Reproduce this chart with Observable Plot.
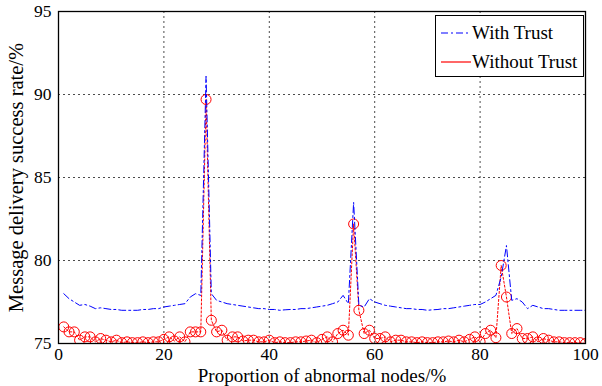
<!DOCTYPE html>
<html>
<head>
<meta charset="utf-8">
<script src="https://cdn.jsdelivr.net/npm/d3@7"></script>
<script src="https://cdn.jsdelivr.net/npm/@observablehq/plot@0.6"></script>
<style>
  body { margin: 0; background: #fff; }
  #wrap { position: relative; width: 602px; height: 386px; font-family: "Liberation Serif", serif; }
  #wrap svg text { font-family: "Liberation Serif", serif; }
  #legend { position: absolute; left: 435px; top: 15px; width: 149px; height: 62px; border: 1px solid #000; background: #fff; box-sizing: border-box; font-size: 19px; }
  .row { position: absolute; left: 5px; height: 22px; display: flex; align-items: center; }
  .row span { margin-left: 1px; }
</style>
</head>
<body>
<div id="wrap"></div>
<script>
// Series values (x = proportion of abnormal nodes, 1..100 %)
const proportion = d3.range(1, 101);
const withTrust = [
  78.0, 77.7, 77.5, 77.3, 77.35, 77.25, 77.1, 77.15, 77.1, 77.05,
  77.05, 77.0, 77.0, 77.0, 77.0, 77.05, 77.05, 77.1, 77.1, 77.2,
  77.25, 77.3, 77.35, 77.4, 77.8, 78.0, 77.9, 91.1, 78.0, 77.6,
  77.5, 77.4, 77.35, 77.3, 77.25, 77.2, 77.15, 77.1, 77.1, 77.05,
  77.05, 77.0, 77.03, 77.05, 77.05, 77.1, 77.1, 77.15, 77.2, 77.25,
  77.3, 77.4, 77.5, 77.9, 77.4, 83.5, 77.3, 77.2, 77.7, 77.5,
  77.4, 77.3, 77.25, 77.2, 77.15, 77.1, 77.1, 77.05, 77.05, 77.0,
  77.03, 77.05, 77.1, 77.1, 77.15, 77.2, 77.25, 77.3, 77.35, 77.35,
  77.5, 77.7, 77.9, 79.0, 80.9, 77.6, 77.7, 77.5, 77.1, 77.3,
  77.2, 77.1, 77.1, 77.05, 77.0, 77.0, 77.0, 77.0, 77.0, 77.0
];
const withoutTrust = [
  76.0, 75.7, 75.7, 75.2, 75.4, 75.4, 75.1, 75.3, 75.2, 75.1,
  75.2, 75.05, 75.1, 75.05, 75.05, 75.1, 75.05, 75.1, 75.1, 75.25,
  75.4, 75.15, 75.4, 75.1, 75.7, 75.7, 75.7, 89.7, 76.4, 75.7,
  75.8, 75.2, 75.4, 75.4, 75.15, 75.2, 75.2, 75.1, 75.1, 75.2,
  75.05, 75.1, 75.05, 75.05, 75.1, 75.1, 75.15, 75.2, 75.05, 75.25,
  75.4, 75.1, 75.6, 75.8, 75.5, 82.2, 77.0, 75.6, 75.8, 75.3,
  75.3, 75.4, 75.1, 75.2, 75.2, 75.1, 75.1, 75.05, 75.1, 75.05,
  75.05, 75.1, 75.1, 75.15, 75.1, 75.2, 75.1, 75.25, 75.4, 75.1,
  75.6, 75.8, 75.35, 79.7, 77.8, 75.6, 75.9, 75.3, 75.3, 75.4,
  75.1, 75.3, 75.2, 75.1, 75.1, 75.05, 75.05, 75.05, 75.05, 75.0
];
const xTicks = [0, 20, 40, 60, 80, 100];
const yTicks = [75, 80, 85, 90, 95];
const seriesNames = ["With Trust", "Without Trust"];
const seriesColors = ["#0000ff", "#ff0000"];
const xLabel = "Proportion of abnormal nodes/%";
const yLabel = "Message delivery success rate/%";

const rowsWith = proportion.map((x, i) => ({x, y: withTrust[i]}));
const rowsWithout = proportion.map((x, i) => ({x, y: withoutTrust[i]}));

const font = "Liberation Serif, serif";
const chart = Plot.plot({
  width: 602,
  height: 386,
  marginLeft: 58,
  marginRight: 17,
  marginTop: 11,
  marginBottom: 43,
  style: {fontFamily: font, fontSize: "17px", color: "#000", background: "#fff"},
  x: {domain: [0, 100]},
  y: {domain: [75, 95]},
  marks: [
    Plot.gridX(xTicks, {stroke: "#000", strokeOpacity: 0.7, strokeDasharray: "2,3"}),
    Plot.gridY(yTicks, {stroke: "#000", strokeOpacity: 0.7, strokeDasharray: "2,3"}),
    Plot.axisX(xTicks, {tickSize: 0, tickPadding: 4, fontSize: 17.5, fontFamily: font, label: xLabel, labelAnchor: "center", labelArrow: "none", labelOffset: 38}),
    Plot.axisY(yTicks, {tickSize: 0, tickPadding: 7, fontSize: 17.5, fontFamily: font, label: yLabel, labelAnchor: "center", labelArrow: "none", labelOffset: 50}),
    Plot.line(rowsWithout, {x: "x", y: "y", stroke: seriesColors[1], strokeWidth: 1, strokeDasharray: "2,2", clip: true}),
    Plot.dot(rowsWithout, {x: "x", y: "y", r: 5, stroke: seriesColors[1], fill: "none", strokeWidth: 1, clip: true}),
    Plot.line(rowsWith, {x: "x", y: "y", stroke: seriesColors[0], strokeWidth: 1, strokeDasharray: "7,3,2,3", clip: true}),
    Plot.frame({stroke: "#000", strokeWidth: 1.3})
  ]
});

const wrap = document.getElementById("wrap");
wrap.appendChild(chart);
chart.querySelectorAll("g[aria-label='x-axis label'] text").forEach(t => t.setAttribute("font-size", 19));
chart.querySelectorAll("g[aria-label='y-axis label'] text").forEach(t => t.setAttribute("font-size", 20.5));

const legend = document.createElement("div");
legend.id = "legend";
const dashes = ["7,3,2,3", null];
seriesNames.forEach((name, i) => {
  const row = document.createElement("div");
  row.className = "row";
  row.style.top = (i === 0 ? 6 : 35) + "px";
  const dash = dashes[i] ? `stroke-dasharray="${dashes[i]}"` : "";
  row.innerHTML = `<svg width="30" height="10"><line x1="0" y1="5" x2="30" y2="5" stroke="${seriesColors[i]}" stroke-width="1.2" ${dash}/></svg><span>${name}</span>`;
  legend.appendChild(row);
});
wrap.appendChild(legend);
</script>
</body>
</html>
